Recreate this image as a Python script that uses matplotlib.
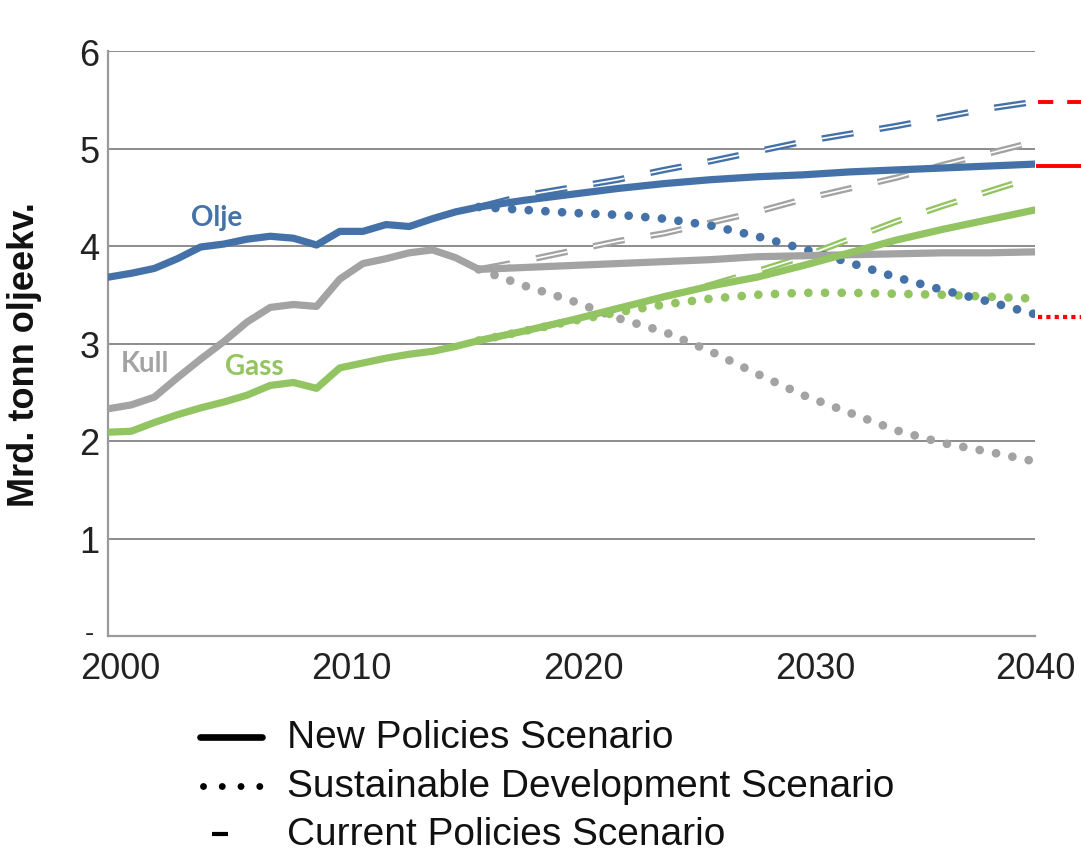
import matplotlib.pyplot as plt
import matplotlib.transforms as mtransforms
from matplotlib.lines import Line2D

# historical data (Mrd. tonn oljeekv.)
hist_years = list(range(2000, 2017))
olje_hist = [3.68, 3.72, 3.77, 3.87, 3.99, 4.02, 4.07, 4.10, 4.08, 4.01, 4.15, 4.15, 4.22, 4.20, 4.28, 4.35, 4.40]
kull_hist = [2.33, 2.37, 2.45, 2.65, 2.84, 3.02, 3.22, 3.37, 3.40, 3.38, 3.66, 3.82, 3.87, 3.93, 3.96, 3.88, 3.76]
gass_hist = [2.09, 2.10, 2.19, 2.27, 2.34, 2.40, 2.47, 2.57, 2.60, 2.54, 2.75, 2.80, 2.85, 2.89, 2.92, 2.97, 3.03]

# projections
proj_years = [2016, 2018, 2020, 2022, 2024, 2026, 2028, 2030, 2032, 2034, 2036, 2038, 2040]
olje_nps = [4.40, 4.47, 4.53, 4.59, 4.64, 4.68, 4.71, 4.73, 4.76, 4.78, 4.80, 4.82, 4.84]
olje_cps = [4.40, 4.52, 4.60, 4.68, 4.78, 4.87, 4.97, 5.07, 5.15, 5.23, 5.32, 5.41, 5.48]
olje_sds = [4.40, 4.37, 4.34, 4.32, 4.28, 4.21, 4.10, 3.97, 3.83, 3.68, 3.55, 3.43, 3.30]
kull_nps = [3.76, 3.78, 3.80, 3.82, 3.84, 3.86, 3.89, 3.90, 3.91, 3.92, 3.93, 3.93, 3.94]
kull_cps = [3.76, 3.85, 3.95, 4.05, 4.13, 4.24, 4.35, 4.48, 4.59, 4.70, 4.83, 4.95, 5.07]
kull_sds = [3.76, 3.59, 3.44, 3.26, 3.12, 2.92, 2.69, 2.47, 2.29, 2.11, 1.98, 1.89, 1.79]
gass_nps = [3.03, 3.13, 3.24, 3.36, 3.48, 3.59, 3.68, 3.80, 3.93, 4.06, 4.17, 4.27, 4.37]
gass_cps = [3.03, 3.13, 3.24, 3.36, 3.48, 3.60, 3.74, 3.89, 4.07, 4.25, 4.41, 4.56, 4.71]
gass_sds = [3.03, 3.13, 3.23, 3.32, 3.40, 3.46, 3.50, 3.52, 3.52, 3.51, 3.50, 3.48, 3.46]

x_ticks = [2000, 2010, 2020, 2030, 2040]
y_ticks = [0, 1, 2, 3, 4, 5, 6]
y_labels = ['-', '1', '2', '3', '4', '5', '6']
legend_labels = ['New Policies Scenario', 'Sustainable Development Scenario', 'Current Policies Scenario']

BLUE = '#4472a8'
GRAY = '#a3a3a3'
GREEN = '#93c462'

plt.rcParams['font.family'] = ['Liberation Sans', 'DejaVu Sans']
plt.rcParams['lines.scale_dashes'] = False

fig = plt.figure(figsize=(10.81, 8.53), dpi=100)
ax = fig.add_axes([108 / 1081, 1 - 637 / 853, 927 / 1081, 585 / 853])


def draw_cps(years, vals, color):
    ax.plot(years, vals, color=color, lw=4.6, dashes=(23, 19), dash_capstyle='butt', zorder=3)
    ax.plot(years, vals, color='white', lw=1.2, dashes=(23, 19), dash_capstyle='butt', zorder=3.1)


def draw_sds(years, vals, color):
    ax.plot(years, vals, color=color, lw=6.3, dashes=(0.01, 12), dash_capstyle='round', zorder=4)


def draw_nps(hist, proj, color):
    ax.plot(hist_years + proj_years[1:], hist + proj[1:], color=color, lw=5.2,
            solid_capstyle='round', solid_joinstyle='round', zorder=5)


for cps, col in [(kull_cps, GRAY), (gass_cps, GREEN), (olje_cps, BLUE)]:
    draw_cps(proj_years, cps, col)
draw_nps(kull_hist, kull_nps, GRAY)
for sds, col in [(kull_sds, GRAY), (gass_sds, GREEN), (olje_sds, BLUE)]:
    draw_sds(proj_years, sds, col)
draw_nps(gass_hist, gass_nps, GREEN)
draw_nps(olje_hist, olje_nps, BLUE)

# red markers to the right of the plot at the 2040 oil levels
ax.plot([2040.15, 2042], [olje_cps[-1]] * 2, color='red', lw=2.8, dashes=(11, 10), clip_on=False)
ax.plot([2040.15, 2042], [olje_nps[-1] - 0.02] * 2, color='red', lw=2.8, clip_on=False)
ax.plot([2040.15, 2042], [olje_sds[-1] - 0.03] * 2, color='red', lw=3, dashes=(3, 3), clip_on=False)

ax.text(2004.7, 4.30, 'Olje', color=BLUE, fontsize=20, fontweight='bold', family=['Lato', 'DejaVu Sans'],
        ha='center', va='center')
ax.text(2001.6, 2.80, 'Kull', color=GRAY, fontsize=20, fontweight='bold', family=['Lato', 'DejaVu Sans'],
        ha='center', va='center')
ax.text(2006.3, 2.77, 'Gass', color=GREEN, fontsize=20, fontweight='bold', family=['Lato', 'DejaVu Sans'],
        ha='center', va='center')

ax.set_xlim(2000, 2040)
ax.set_ylim(0, 6)
ax.set_xticks(x_ticks)
ax.set_yticks(y_ticks)
ax.set_yticklabels(y_labels)
ax.yaxis.grid(True, color='#8c8c8c', lw=1.4)
ax.set_axisbelow(True)
for side in ['top', 'right']:
    ax.spines[side].set_visible(False)
for side in ['left', 'bottom']:
    ax.spines[side].set_color('#9a9a9a')
    ax.spines[side].set_linewidth(1.6)
ax.tick_params(axis='both', length=0, labelsize=26, colors='#222222')
ax.tick_params(axis='y', pad=6)
ax.tick_params(axis='x', pad=11)
ax.set_ylabel('Mrd. tonn oljeekv.', fontsize=26, fontweight='bold', color='#111111')
ax.yaxis.set_label_coords(-0.071, 0.482)

# year labels sit a little right of their ticks in the original (except the last one)
shift_right = mtransforms.ScaledTranslation(12 / 100, 0, fig.dpi_scale_trans)
for lab in ax.get_xticklabels()[:-1]:
    lab.set_transform(lab.get_transform() + shift_right)
# the "-" label for zero is small and sits just above the axis
zero_lab = ax.get_yticklabels()[0]
zero_lab.set_fontsize(20)
zero_lab.set_transform(zero_lab.get_transform() + mtransforms.ScaledTranslation(-6 / 100, 6 / 100, fig.dpi_scale_trans))

# legend below the plot
leg_y = [738, 787, 835]
fig.add_artist(Line2D([200 / 1081, 262 / 1081], [1 - leg_y[0] / 853] * 2, transform=fig.transFigure,
                      color='black', lw=4.8, solid_capstyle='round'))
fig.add_artist(Line2D([203 / 1081, 262 / 1081], [1 - leg_y[1] / 853] * 2, transform=fig.transFigure,
                      color='black', lw=5, dashes=(0.01, 13.5), dash_capstyle='round'))
fig.add_artist(Line2D([212 / 1081, 228 / 1081], [1 - leg_y[2] / 853] * 2, transform=fig.transFigure,
                      color='black', lw=3, solid_capstyle='butt'))
for yy, lab in zip(leg_y, legend_labels):
    fig.text(287 / 1081, 1 - yy / 853, lab, fontsize=28, color='#111111', ha='left', va='center')

fig.savefig('out.png', dpi=100)
